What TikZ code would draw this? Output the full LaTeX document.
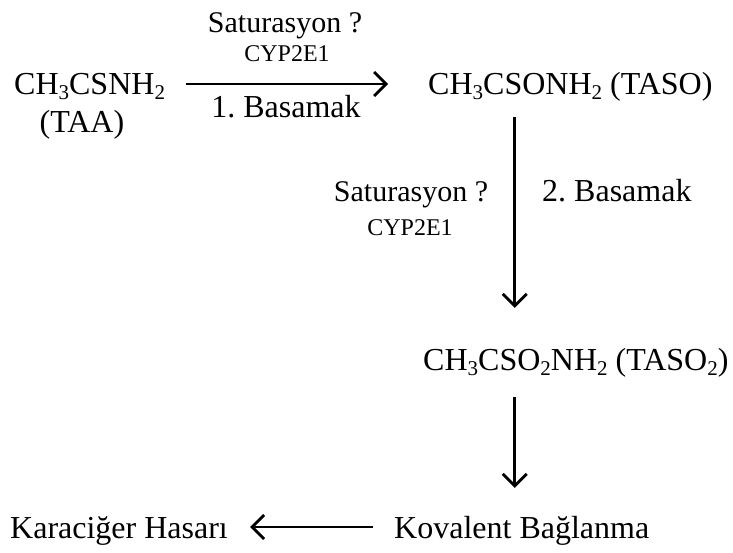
\documentclass[tikz,border=0pt]{standalone}
\usepackage{fontspec}
\setmainfont{Liberation Serif}
\usetikzlibrary{arrows.meta}
\newcommand{\chsub}[1]{\raisebox{-5pt}{\fontsize{21}{21}\selectfont #1}}
\tikzset{
  big/.style={inner sep=0pt,text height=22pt,text depth=0pt,font=\fontsize{32}{36}\selectfont},
  mid/.style={inner sep=0pt,font=\fontsize{30}{34}\selectfont},
  small/.style={inner sep=0pt,font=\fontsize{24}{28}\selectfont},
  arr/.style={line width=2.8pt,-{Straight Barb[length=12pt,width=24pt]}}
}
\begin{document}
\begin{tikzpicture}[x=1pt,y=-1pt]
\useasboundingbox (0,0) rectangle (733,553);
\node[big,anchor=base west] (taa) at (14,95) {CH\chsub{3}CSNH\chsub{2}};
\node[big,anchor=base] (taaname) at (82,133) {(TAA)};
\node[big,anchor=base west] (taso) at (428,95) {CH\chsub{3}CSONH\chsub{2} (TASO)};
\node[big,anchor=base west] (taso2) at (423,370) {CH\chsub{3}CSO\chsub{2}NH\chsub{2} (TASO\chsub{2})};
\node[big,anchor=base west] (kov) at (394,538) {Kovalent Bağlanma};
\node[big,anchor=base west] (hasar) at (10,538) {Karaciğer Hasarı};
\node[mid,anchor=base] (sat1) at (285,33) {Saturasyon ?};
\node[small,anchor=base] (cyp1) at (287,62) {CYP2E1};
\node[big,anchor=base] (step1) at (286,118) {1.\ Basamak};
\node[mid,anchor=base] (sat2) at (411,202) {Saturasyon ?};
\node[small,anchor=base] (cyp2) at (410,236) {CYP2E1};
\node[big,anchor=base west] (step2) at (542,202) {2.\ Basamak};
\draw[arr,shorten <=21pt,shorten >=40pt] (taa.east) -- (taso.west);
\draw[arr,shorten <=22pt,shorten >=40pt] ([xshift=-7pt]taso.south -| kov.north) -- ([xshift=-7pt]taso2.north -| kov.north);
\draw[arr,shorten <=27pt,shorten >=28pt] ([xshift=-7pt]taso2.south -| kov.north) -- ([xshift=-7pt]kov.north);
\draw[arr,shorten <=21pt,shorten >=22pt] (kov.west) -- (hasar.east);
\end{tikzpicture}
\end{document}
